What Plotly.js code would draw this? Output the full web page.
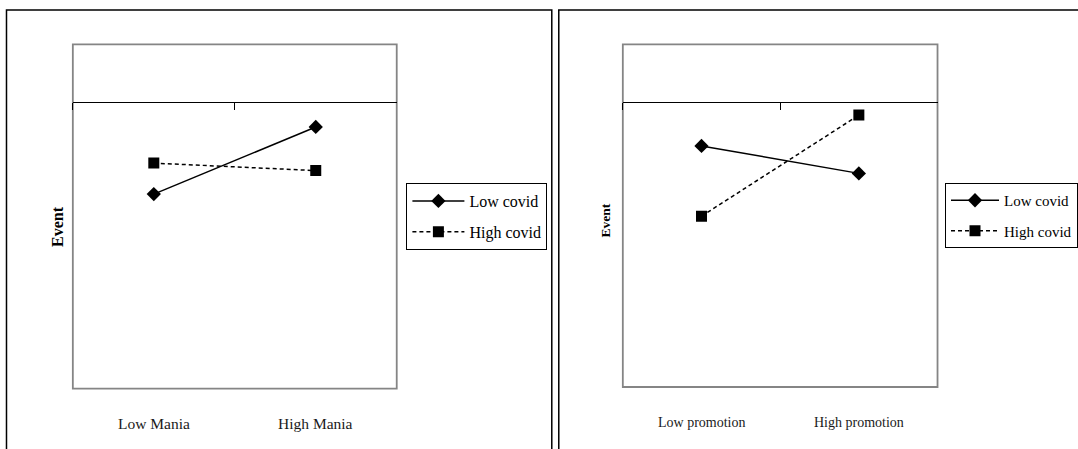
<!DOCTYPE html>
<html>
<head>
<meta charset="utf-8">
<script src="https://cdn.plot.ly/plotly-3.0.1.min.js"></script>
<style>
  html, body { margin: 0; padding: 0; background: #ffffff; }
  #chart { width: 1078px; height: 449px; }
</style>
</head>
<body>
<div id="chart"></div>
<script>
// Interaction plots: Event by Mania level and by promotion level, split by covid level
const seriesNames = ["Low covid", "High covid"];
const maniaCategories = ["Low Mania", "High Mania"];
const maniaLowCovid = [3.39, 4.56];
const maniaHighCovid = [3.93, 3.80];
const promotionCategories = ["Low promotion", "High promotion"];
const promotionLowCovid = [4.22, 3.74];
const promotionHighCovid = [2.99, 4.76];
const valueTitle = "Event";

const W = 1078, H = 449;
const px = v => v / W;
const py = v => 1 - v / H;
const serif = "Liberation Serif, Times New Roman, serif";

function series(name, xs, ys, xa, ya, legendId, isLow) {
  return {
    type: "scatter",
    mode: "lines+markers",
    name: name,
    x: xs,
    y: ys,
    xaxis: xa,
    yaxis: ya,
    legend: legendId,
    legendgroup: legendId + name,
    line: { color: "#000000", width: 1.5, dash: isLow ? "solid" : "4px,3px" },
    marker: {
      symbol: isLow ? "diamond" : "square",
      size: 11,
      color: "#000000"
    },
    hoverinfo: "x+y+name"
  };
}

const traces = [
  series(seriesNames[0], maniaCategories, maniaLowCovid, "x", "y", "legend", true),
  series(seriesNames[1], maniaCategories, maniaHighCovid, "x", "y", "legend", false),
  series(seriesNames[0], promotionCategories, promotionLowCovid, "x2", "y2", "legend2", true),
  series(seriesNames[1], promotionCategories, promotionHighCovid, "x2", "y2", "legend2", false)
];

// Category axis drawn across the plot at the value 5 level, ticks between categories
function catAxis(domain, catArr) {
  return {
    domain: domain,
    type: "category",
    categoryorder: "array",
    categoryarray: catArr,
    range: [-0.5, 1.5],
    anchor: "free",
    position: py(102.3),
    showline: true,
    linecolor: "#000000",
    linewidth: 1,
    ticks: "outside",
    tickson: "boundaries",
    ticklen: 7,
    tickcolor: "#000000",
    tickwidth: 1,
    showticklabels: false,
    showgrid: false,
    zeroline: false,
    fixedrange: true
  };
}

function valAxis(domain, xId) {
  return {
    domain: domain,
    anchor: xId,
    range: [0, 6],
    showline: false,
    showgrid: false,
    zeroline: false,
    showticklabels: false,
    ticks: "",
    fixedrange: true
  };
}

const annotations = [];
maniaCategories.forEach(c => annotations.push({
  xref: "x", yref: "paper", x: c, y: py(423), text: c, showarrow: false,
  xanchor: "center", yanchor: "middle", font: { family: serif, size: 15.5, color: "#1a1a1a" }
}));
promotionCategories.forEach(c => annotations.push({
  xref: "x2", yref: "paper", x: c, y: py(422), text: c, showarrow: false,
  xanchor: "center", yanchor: "middle", font: { family: serif, size: 14, color: "#1a1a1a" }
}));
annotations.push({
  xref: "paper", yref: "paper", x: px(57), y: py(226), text: "<b>" + valueTitle + "</b>",
  textangle: -90, showarrow: false, xanchor: "center", yanchor: "middle",
  font: { family: serif, size: 16, color: "#000000" }
});
annotations.push({
  xref: "paper", yref: "paper", x: px(607), y: py(220), text: "<b>" + valueTitle + "</b>",
  textangle: -90, showarrow: false, xanchor: "center", yanchor: "middle",
  font: { family: serif, size: 13.5, color: "#000000" }
});

const shapes = [
  // panel frames
  { type: "rect", xref: "paper", yref: "paper", x0: px(6.5), x1: px(552.3), y0: py(470), y1: py(10),
    line: { color: "#000000", width: 1.5 }, layer: "below" },
  { type: "rect", xref: "paper", yref: "paper", x0: px(559.3), x1: px(1100), y0: py(470), y1: py(10),
    line: { color: "#000000", width: 1.5 }, layer: "below" },
  // plot-area borders
  { type: "rect", xref: "x domain", yref: "y domain", x0: 0, x1: 1, y0: 0, y1: 1,
    line: { color: "#858585", width: 1.8 }, layer: "below" },
  { type: "rect", xref: "x2 domain", yref: "y2 domain", x0: 0, x1: 1, y0: 0, y1: 1,
    line: { color: "#858585", width: 1.8 }, layer: "below" }
];

const layout = {
  width: W,
  height: H,
  margin: { l: 0, r: 0, t: 0, b: 0, pad: 0 },
  paper_bgcolor: "#ffffff",
  plot_bgcolor: "rgba(0,0,0,0)",
  font: { family: serif, color: "#000000" },
  showlegend: true,
  xaxis: catAxis([px(72.9), px(397.1)], maniaCategories),
  yaxis: valAxis([py(388.7), py(44.3)], "x"),
  xaxis2: catAxis([px(623.4), px(938.4)], promotionCategories),
  yaxis2: valAxis([py(387), py(44.3)], "x2"),
  legend: {
    x: px(406.4), y: py(183), xanchor: "left", yanchor: "top",
    bgcolor: "#ffffff", bordercolor: "#000000", borderwidth: 1,
    font: { family: serif, size: 16, color: "#000000" },
    itemwidth: 52, tracegroupgap: 7, traceorder: "grouped"
  },
  legend2: {
    x: px(946.3), y: py(183), xanchor: "left", yanchor: "top",
    bgcolor: "#ffffff", bordercolor: "#000000", borderwidth: 1,
    font: { family: serif, size: 15, color: "#000000" },
    itemwidth: 48, tracegroupgap: 8, traceorder: "grouped"
  },
  annotations: annotations,
  shapes: shapes
};

Plotly.newPlot("chart", traces, layout, { displayModeBar: false, staticPlot: true });
</script>
</body>
</html>
